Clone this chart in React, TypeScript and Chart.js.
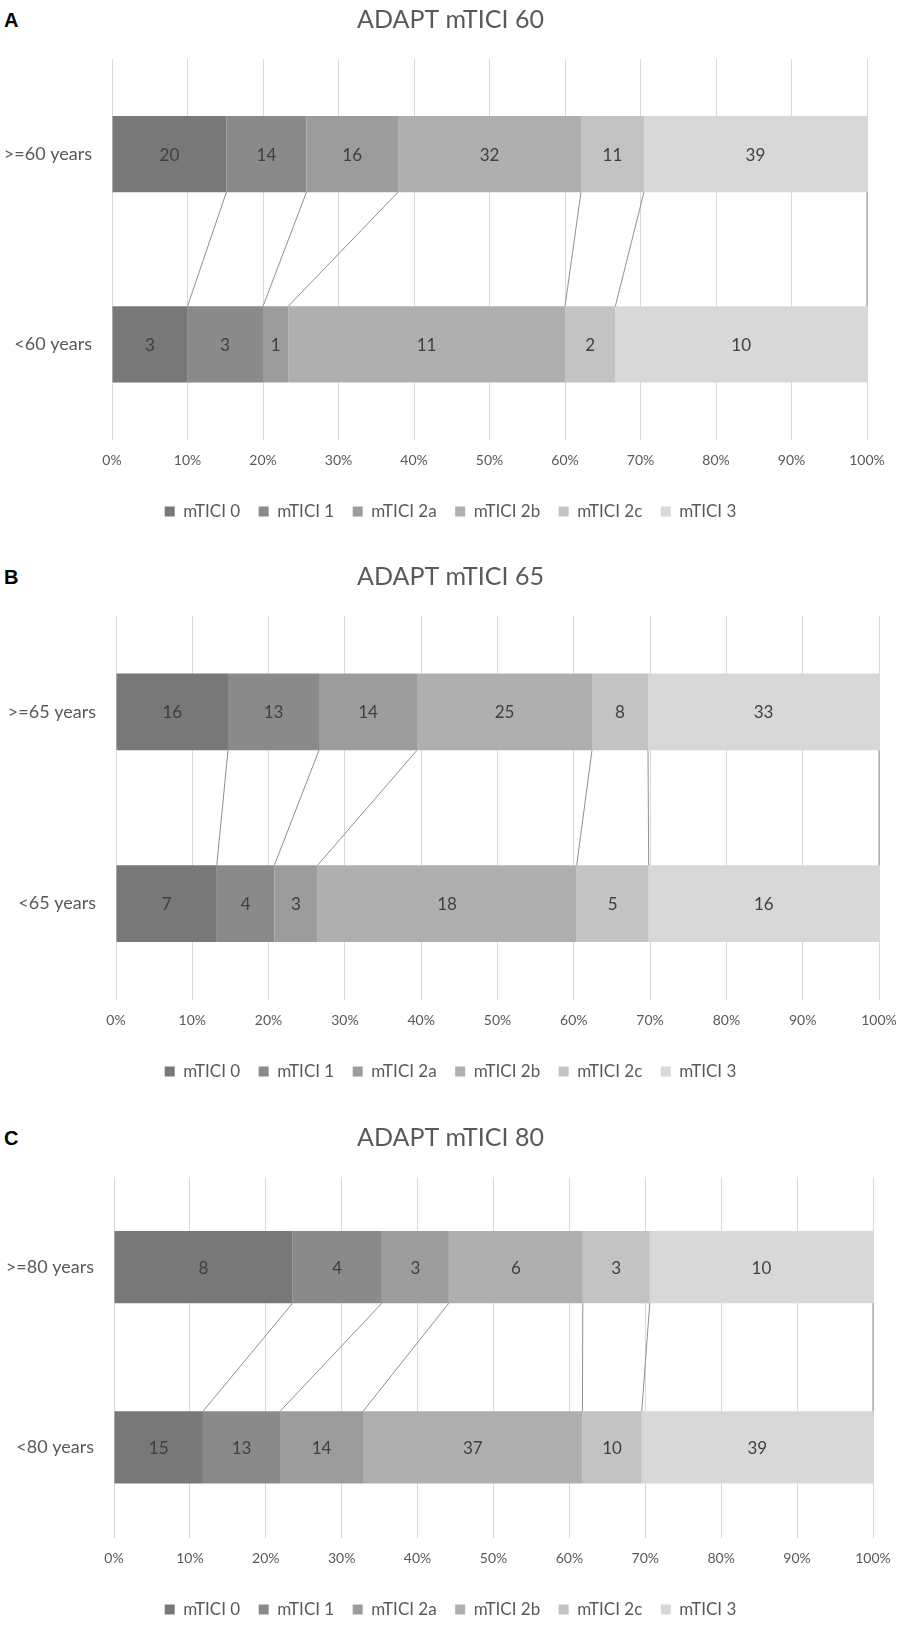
import React, { useEffect, useRef } from 'react'
import { Chart, registerables } from 'chart.js'

Chart.register(...registerables)
Chart.defaults.font.family = 'Lato, "Open Sans", sans-serif'

// mTICI grades (legend) and their grey shades
const grades = ['mTICI 0', 'mTICI 1', 'mTICI 2a', 'mTICI 2b', 'mTICI 2c', 'mTICI 3']
const shades = ['#787878', '#8a8a8a', '#9c9c9c', '#afafaf', '#c3c3c3', '#d8d8d8']

// patient counts per grade, older group first
const groups60 = ['>=60 years', '<60 years']
const older60 = [20, 14, 16, 32, 11, 39]
const younger60 = [3, 3, 1, 11, 2, 10]

const groups65 = ['>=65 years', '<65 years']
const older65 = [16, 13, 14, 25, 8, 33]
const younger65 = [7, 4, 3, 18, 5, 16]

const groups80 = ['>=80 years', '<80 years']
const older80 = [8, 4, 3, 6, 3, 10]
const younger80 = [15, 13, 14, 37, 10, 39]

const percentTicks = [0, 10, 20, 30, 40, 50, 60, 70, 80, 90, 100]

const W = 901

type PanelProps = {
  letter: string
  title: string
  groups: string[]
  older: number[]
  younger: number[]
  top: number
  gridH: number
  plotLeft: number
  plotRight: number
}

const Panel: React.FC<PanelProps> = ({ letter, title, groups, older, younger, top, gridH, plotLeft, plotRight }) => {
  const ref = useRef<HTMLCanvasElement | null>(null)
  const height = Math.round(59 + gridH + 32 + 45.5)

  useEffect(() => {
    if (!ref.current) return
    const rows = [older, younger]
    const totals = rows.map((r) => r.reduce((a, b) => a + b, 0))

    // Excel-style series lines joining the segment edges of both bars
    const seriesLines = {
      id: 'seriesLines',
      afterDatasetsDraw(chart: any) {
        const ctx = chart.ctx
        ctx.save()
        ctx.strokeStyle = '#8f8f8f'
        ctx.lineWidth = 1
        chart.data.datasets.forEach((_: any, i: number) => {
          const [a, b] = chart.getDatasetMeta(i).data
          if (!a || !b) return
          ctx.beginPath()
          ctx.moveTo(a.x, a.y + a.height / 2)
          ctx.lineTo(b.x, b.y - b.height / 2)
          ctx.stroke()
        })
        ctx.restore()
      },
    }

    // counts written in the middle of each segment
    const barLabels = {
      id: 'barLabels',
      afterDatasetsDraw(chart: any) {
        const ctx = chart.ctx
        ctx.save()
        ctx.font = '17px Lato, "Open Sans", sans-serif'
        ctx.fillStyle = '#3f3f3f'
        ctx.textAlign = 'center'
        ctx.textBaseline = 'middle'
        chart.data.datasets.forEach((_: any, i: number) => {
          chart.getDatasetMeta(i).data.forEach((el: any, j: number) => {
            ctx.fillText(String(rows[j][i]), (el.x + el.base) / 2, el.y + 1)
          })
        })
        ctx.restore()
      },
    }

    const chart = new Chart(ref.current, {
      type: 'bar',
      data: {
        labels: groups,
        datasets: grades.map((g, i) => ({
          label: g,
          data: rows.map((r, j) => (r[i] / totals[j]) * 100),
          backgroundColor: shades[i],
          borderWidth: 0,
          barPercentage: 0.4,
          categoryPercentage: 1,
        })),
      },
      options: {
        indexAxis: 'y',
        responsive: true,
        maintainAspectRatio: false,
        animation: false,
        layout: { padding: 0 },
        scales: {
          x: {
            stacked: true,
            min: 0,
            max: 100,
            afterBuildTicks: (s: any) => {
              s.ticks = percentTicks.map((v) => ({ value: v }))
            },
            afterFit: (s: any) => {
              s.paddingRight = W - plotRight
              s.height += 2.2
            },
            ticks: {
              callback: (v: any) => v + '%',
              padding: 13,
              color: '#595959',
              font: { size: 14 },
              maxRotation: 0,
            },
            grid: { color: '#d9d9d9', drawTicks: false },
            border: { display: false },
          },
          y: {
            stacked: true,
            grid: { display: false, drawTicks: false },
            border: { display: false },
            ticks: { padding: 20, color: '#595959', font: { size: 18 } },
            afterFit: (s: any) => {
              s.width = plotLeft
            },
          },
        },
        plugins: {
          title: {
            display: true,
            text: title,
            color: '#595959',
            font: { size: 25, weight: 'normal' },
            padding: { top: 5, bottom: 24 },
          },
          legend: {
            position: 'bottom',
            labels: {
              boxWidth: 10,
              boxHeight: 10,
              padding: 18.5,
              color: '#595959',
              font: { size: 17 },
            },
          },
          tooltip: { enabled: false },
        },
      },
      plugins: [seriesLines, barLabels],
    } as any)
    return () => chart.destroy()
  }, [title, groups, older, younger, gridH, plotLeft, plotRight])

  return (
    <>
      <div
        style={{
          position: 'absolute',
          left: 4,
          top: top + 8,
          fontFamily: '"Liberation Sans", Arial, sans-serif',
          fontWeight: 'bold',
          fontSize: 20,
          lineHeight: '24px',
          color: '#000',
        }}
      >
        {letter}
      </div>
      <div style={{ position: 'absolute', left: 0, top, width: W, height }}>
        <canvas ref={ref} />
      </div>
    </>
  )
}

export default function App() {
  return (
    <div style={{ position: 'absolute', left: 0, top: 0, width: W, height: 1637, background: '#fff' }}>
      <Panel letter="A" title="ADAPT mTICI 60" groups={groups60} older={older60} younger={younger60} top={0} gridH={393} plotLeft={112} plotRight={867} />
      <Panel letter="B" title="ADAPT mTICI 65" groups={groups65} older={older65} younger={younger65} top={557} gridH={396} plotLeft={116} plotRight={879} />
      <Panel letter="C" title="ADAPT mTICI 80" groups={groups80} older={older80} younger={younger80} top={1118} gridH={373} plotLeft={114} plotRight={873} />
    </div>
  )
}
